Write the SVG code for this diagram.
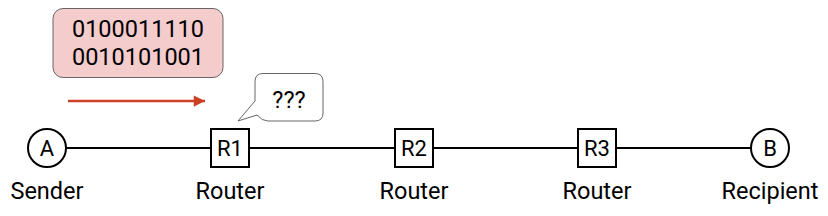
<svg xmlns="http://www.w3.org/2000/svg" width="828" height="216" viewBox="0 0 828 216">
<defs>
<style>
text{font-family:Roboto,"Liberation Sans",sans-serif;fill:#000;text-anchor:middle}
.lbl{font-size:23.5px}
.nd{font-size:22px}
.box{fill:#fff;stroke:#000;stroke-width:2}
.link{stroke:#000;stroke-width:2;fill:none}
</style>
<marker id="ah" viewBox="0 0 10 10" refX="10" refY="5" markerWidth="5" markerHeight="4.5" markerUnits="strokeWidth" orient="auto">
<path d="M0 0 L10 5 L0 10 Z" fill="#cc4125"/>
</marker>
</defs>
<g id="connectors">
<line class="link" x1="66" y1="148" x2="211" y2="148"/>
<line class="link" x1="249" y1="148" x2="395" y2="148"/>
<line class="link" x1="433" y1="148" x2="578" y2="148"/>
<line class="link" x1="616" y1="148" x2="751" y2="148"/>
<line x1="68" y1="101" x2="205" y2="101" stroke="#cc4125" stroke-width="2.5" marker-end="url(#ah)"/>
</g>
<g id="packet">
<rect x="53" y="8.5" width="170" height="69" rx="10" fill="#f4cccc" stroke="#666" stroke-width="1"/>
<text class="lbl" x="138" y="37">0100011110</text>
<text class="lbl" x="138" y="65">0010101001</text>
</g>
<g id="bubble">
<path d="M263 73.5 H315 Q323 73.5 323 81.5 V113 Q323 121 315 121 H268 Q262 121 257 115 L238 121 L255 101 V81.5 Q255 73.5 263 73.5 Z" fill="#fff" stroke="#666" stroke-width="1"/>
<text class="lbl" x="289" y="108">???</text>
</g>
<g id="A">
<circle class="box" cx="47" cy="148" r="19"/>
<text class="nd" x="47" y="156">A</text>
<text class="lbl" x="47" y="199">Sender</text>
</g>
<g id="R1">
<rect class="box" x="211" y="129" width="38" height="38"/>
<text class="nd" x="230" y="156">R1</text>
<text class="lbl" x="230" y="199">Router</text>
</g>
<g id="R2">
<rect class="box" x="395" y="129" width="38" height="38"/>
<text class="nd" x="414" y="156">R2</text>
<text class="lbl" x="414" y="199">Router</text>
</g>
<g id="R3">
<rect class="box" x="578" y="129" width="38" height="38"/>
<text class="nd" x="597" y="156">R3</text>
<text class="lbl" x="597" y="199">Router</text>
</g>
<g id="B">
<circle class="box" cx="770" cy="148" r="19"/>
<text class="nd" x="770" y="156">B</text>
<text class="lbl" x="770" y="199">Recipient</text>
</g>
</svg>
